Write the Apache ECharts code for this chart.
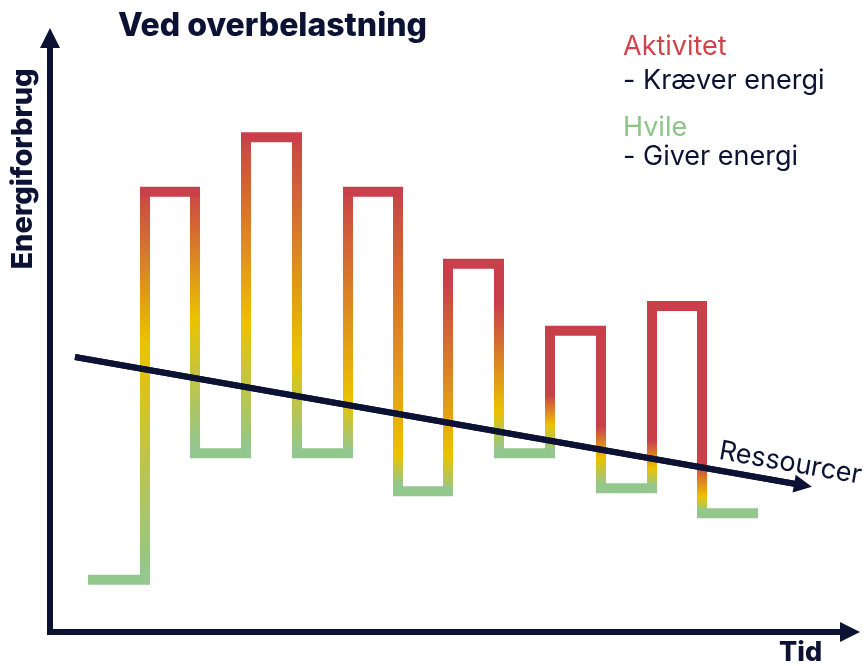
<!DOCTYPE html>
<html><head><meta charset="utf-8">
<script src="https://cdn.jsdelivr.net/npm/echarts@6/dist/echarts.min.js"></script>
<style>html,body{margin:0;padding:0;background:#fff}#c{width:868px;height:666px}</style>
</head><body><div id="c"></div>
<script>
// ---------------- data ----------------
const phaseNames = ['Hvile','Aktivitet','Hvile','Aktivitet','Hvile','Aktivitet','Hvile','Aktivitet','Hvile','Aktivitet','Hvile','Aktivitet','Hvile'];
const phaseBounds = [0.86, 1.9, 2.9, 3.92, 4.94, 5.96, 6.96, 7.96, 8.98, 10.0, 11.02, 12.04, 13.04, 14.06];
const energyUse = [8.8, 74.1, 30.1, 83.3, 30.1, 74.1, 23.7, 62.0, 30.1, 50.7, 24.2, 54.9, 20.0];
const resourceX = [0.5, 15.06];
const resourceY = [46.3, 24.7];
const resourceLabel = 'Ressourcer';
const chartTitle = 'Ved overbelastning';
const yName = 'Energiforbrug';
const xName = 'Tid';
const legendLines = ['Aktivitet', '- Kræver energi', 'Hvile', '- Giver energi'];

// ---------------- style ----------------
const NAVY = '#0b1233';
const RED = '#c9404a', YELLOW = '#ebc300', GREEN = '#93c78d';
const FONT = 'Inter';
// gradient stops per transition: [red until, yellow at, green from] (fraction from top)
const transitionStops = [
  [0.00, 0.39, 0.97], [0.00, 0.49, 0.95], [0.00, 0.59, 0.97], [0.00, 0.69, 0.97],
  [0.00, 0.79, 0.97], [0.00, 0.87, 0.96], [0.10, 0.83, 0.98], [0.23, 0.77, 0.95],
  [0.52, 0.75, 0.95], [0.60, 0.79, 0.95], [0.73, 0.87, 0.97], [0.75, 0.90, 0.98]
];

const series = [];
for (let i = 0; i < energyUse.length; i++) {
  if (i > 0) {
    const s = transitionStops[i - 1];
    series.push({
      type: 'line', symbol: 'none', silent: true, z: 2, animation: false,
      data: [[phaseBounds[i], energyUse[i - 1]], [phaseBounds[i], energyUse[i]]],
      lineStyle: { width: 10, cap: 'butt', color: { type: 'linear', x: 0, y: 0, x2: 0, y2: 1, colorStops: [
        { offset: 0, color: RED }, { offset: s[0], color: RED }, { offset: s[1], color: YELLOW },
        { offset: s[2], color: GREEN }, { offset: 1, color: GREEN }] } }
    });
  }
  series.push({
    type: 'line', symbol: 'none', silent: true, z: 3, animation: false,
    data: [[phaseBounds[i], energyUse[i]], [phaseBounds[i + 1], energyUse[i]]],
    lineStyle: { width: 10, cap: 'square', color: phaseNames[i] === 'Aktivitet' ? RED : GREEN }
  });
}
series.push({
  type: 'line', symbol: 'none', silent: true, z: 5, animation: false,
  data: [[resourceX[0], resourceY[0]], [resourceX[1], resourceY[1]]],
  lineStyle: { width: 6, color: NAVY },
  markLine: {
    silent: true, animation: false, symbol: ['none', 'triangle'], symbolSize: [18, 18],
    lineStyle: { color: NAVY, width: 6, type: 'solid' },
    label: { show: true, position: 'insideEndTop', formatter: resourceLabel, color: NAVY,
      fontSize: 27, fontFamily: FONT, distance: [-56, 6] },
    emphasis: { disabled: true },
    data: [[{ coord: [resourceX[0], resourceY[0]] }, { coord: [resourceX[1], resourceY[1]] }]]
  }
});

const axisCommon = {
  type: 'value', axisTick: { show: false }, axisLabel: { show: false }, splitLine: { show: false },
  axisLine: { show: true, symbol: ['none', 'triangle'], symbolSize: [20, 20],
    lineStyle: { color: NAVY, width: 6, cap: 'square' } }
};

const chart = echarts.init(document.getElementById('c'), null, { renderer: 'canvas' });
chart.setOption({
  animation: false,
  backgroundColor: '#fff',
  grid: { left: 50, right: 18, top: 38, bottom: 34 },
  xAxis: Object.assign({ min: 0, max: 16 }, axisCommon),
  yAxis: Object.assign({ min: 0, max: 100 }, axisCommon),
  title: [
    { text: chartTitle, left: 118, top: 10, padding: 0, textStyle: { fontFamily: FONT, fontWeight: 800, fontSize: 32, color: NAVY } },
    { text: legendLines[0], left: 623, top: 33, padding: 0, textStyle: { fontFamily: FONT, fontWeight: 400, fontSize: 27, color: '#d0444d' } },
    { text: legendLines[1], left: 623, top: 67, padding: 0, textStyle: { fontFamily: FONT, fontWeight: 400, fontSize: 27, color: NAVY } },
    { text: legendLines[2], left: 623, top: 114, padding: 0, textStyle: { fontFamily: FONT, fontWeight: 400, fontSize: 27, color: '#8dc488' } },
    { text: legendLines[3], left: 623, top: 143, padding: 0, textStyle: { fontFamily: FONT, fontWeight: 400, fontSize: 27, color: NAVY } },
    { text: xName, left: 779, top: 639, padding: 0, textStyle: { fontFamily: FONT, fontWeight: 800, fontSize: 27, color: NAVY } }
  ],
  graphic: [
    { type: 'text', x: 23, y: 169, rotation: Math.PI / 2, silent: true,
      style: { text: yName, font: '800 29px Inter', fill: NAVY, align: 'center', verticalAlign: 'middle' } }
  ],
  series: series
});
</script></body></html>
